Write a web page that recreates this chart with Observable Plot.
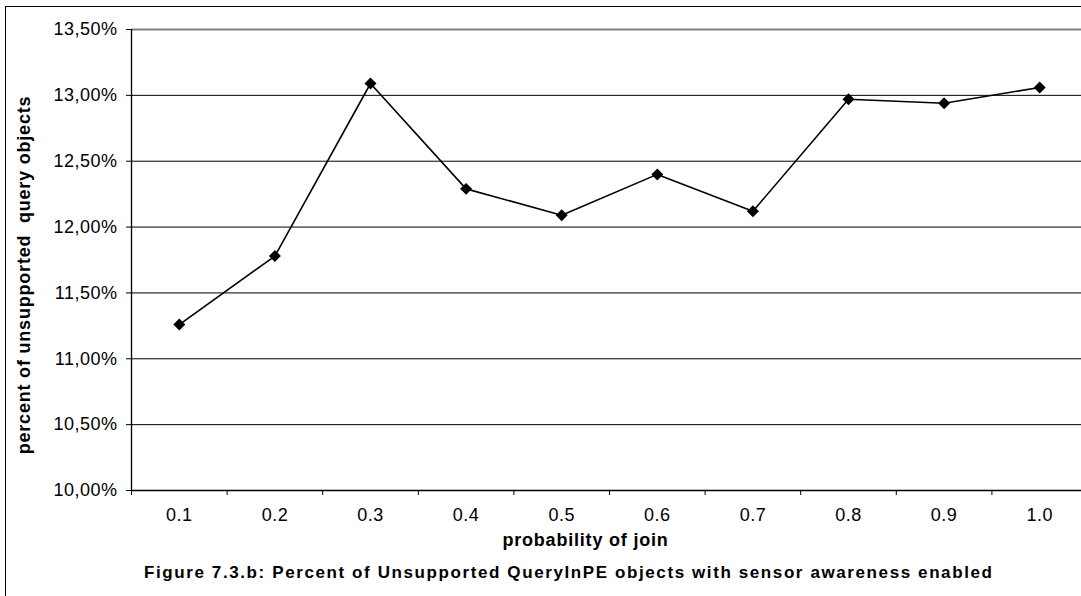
<!DOCTYPE html>
<html>
<head>
<meta charset="utf-8">
<script src="https://cdn.jsdelivr.net/npm/d3@7"></script>
<script src="https://cdn.jsdelivr.net/npm/@observablehq/plot@0.6"></script>
<style>
  html, body { margin: 0; padding: 0; background: #fff; overflow: hidden; }
  #wrap { position: relative; width: 1081px; height: 596px; overflow: hidden; font-family: "Liberation Sans", Arial, sans-serif; }
  #border { position: absolute; left: 5px; top: 6px; width: 1200px; height: 700px; border-left: 1px solid #000; border-top: 1px solid #000; pointer-events: none; }
  #chart svg { display: block; overflow: visible; }
  #chart svg text { letter-spacing: 0.5px; }
  #caption { font-weight: bold; font-size: 17px; letter-spacing: 1.6px; white-space: pre; margin-left: 144px; margin-top: 7px; color: #000; line-height: 20px; }
</style>
</head>
<body>
<div id="wrap">
  <div id="chart"></div>
  <div id="caption"></div>
  <div id="border"></div>
</div>
<script>
// ---- data ----
const categories = ["0.1", "0.2", "0.3", "0.4", "0.5", "0.6", "0.7", "0.8", "0.9", "1.0"];
const probabilities = [0.1, 0.2, 0.3, 0.4, 0.5, 0.6, 0.7, 0.8, 0.9, 1.0];
const unsupportedPct = [11.26, 11.78, 13.09, 12.29, 12.09, 12.40, 12.12, 12.97, 12.94, 13.06];
const yTicks = [10.0, 10.5, 11.0, 11.5, 12.0, 12.5, 13.0, 13.5];
const xTitle = "probability of join";
const yTitle = "percent of unsupported  query objects";
const captionText = "Figure 7.3.b: Percent of Unsupported QueryInPE objects with sensor awareness enabled";

const data = probabilities.map((p, i) => ({p, label: categories[i], v: unsupportedPct[i]}));
const step = probabilities[1] - probabilities[0];
const boundaries = probabilities.map(p => p - step / 2).concat([probabilities[probabilities.length - 1] + step / 2]);
const yMin = yTicks[0], yMax = yTicks[yTicks.length - 1];
const fmtPct = v => v.toFixed(2).replace(".", ",") + "%";
const labelOf = new Map(probabilities.map((p, i) => [p, categories[i]]));

const font = "Liberation Sans, Arial, sans-serif";

const chart = Plot.plot({
  width: 1081,
  height: 556,
  marginTop: 29,
  marginBottom: 66,
  marginLeft: 131,
  marginRight: 0,
  style: {fontFamily: font, fontSize: "18px", color: "#000", background: "transparent", overflow: "visible"},
  x: {type: "linear", domain: [boundaries[0], boundaries[boundaries.length - 1]], range: [131, 1087]},
  y: {domain: [yMin, yMax]},
  marks: [
    Plot.gridY(yTicks, {stroke: "#000", strokeOpacity: 1, strokeWidth: 1}),
    Plot.ruleY([yMax], {stroke: "#808080", strokeWidth: 2}),
    Plot.axisY(yTicks, {tickSize: 5, tickPadding: 9, tickFormat: fmtPct, label: null, fontSize: 18, stroke: "#000"}),
    Plot.axisX(boundaries, {tickSize: 5, tickFormat: () => "", label: null, stroke: "#000"}),
    Plot.axisX(probabilities, {tickSize: 0, tickPadding: 18, tickFormat: p => labelOf.get(p), label: null, fontSize: 18}),
    Plot.ruleX([boundaries[0]], {stroke: "#000", strokeWidth: 1.3}),
    Plot.ruleY([yMin], {stroke: "#000", strokeWidth: 1.3}),
    Plot.line(data, {x: "p", y: "v", stroke: "#000", strokeWidth: 1.6}),
    Plot.dot(data, {x: "p", y: "v", symbol: "diamond2", r: 5.4, fill: "#000", stroke: "none"}),
    Plot.text([xTitle], {frameAnchor: "bottom", text: d => d, dx: -21, dy: 55, textAnchor: "middle", fontWeight: "bold", fontSize: 18, fill: "#000"}),
    Plot.text([yTitle], {frameAnchor: "left", text: d => d, rotate: -90, textAnchor: "middle", dx: -107, dy: 15, fontWeight: "bold", fontSize: 18, fill: "#000"})
  ]
});
d3.select(chart).selectAll('g[aria-label="text"] text').style("letter-spacing", "0.8px");
document.getElementById("chart").appendChild(chart);
document.getElementById("caption").textContent = captionText;
</script>
</body>
</html>
